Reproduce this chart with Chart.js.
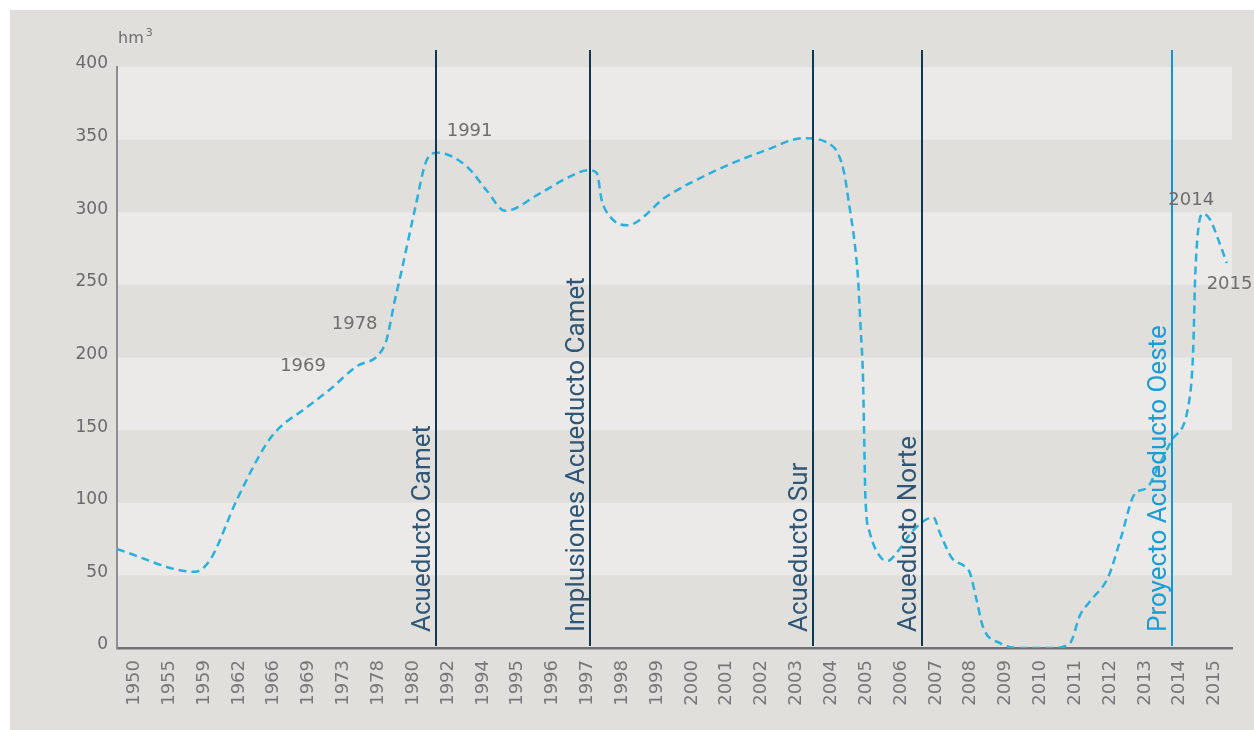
<!DOCTYPE html>
<html lang="es">
<head>
<meta charset="UTF-8" />
<title>Volumen de reserva</title>
<script src="https://cdn.jsdelivr.net/npm/chart.js"></script>
<style>
body { margin: 0; background: #ffffff; }
.grafica { position: absolute; left: 10px; top: 10px; width: 1244px; height: 720px; background: #e1dfdb; }
</style>
</head>
<body>
<div class="grafica"><canvas id="myChart" width="1244" height="720"></canvas></div>
<script>
// categorias del eje x
const years = ["1950", "1955", "1959", "1962", "1966", "1969", "1973", "1978", "1980", "1992",
  "1994", "1995", "1996", "1997", "1998", "1999", "2000", "2001", "2002", "2003",
  "2004", "2005", "2006", "2007", "2008", "2009", "2010", "2011", "2012", "2013", "2014", "2015"];

// curva: posicion sobre el eje de años (en unidades de categoria) y volumen en hm3
const curveAt = [-0.5, 1.74, 2.17, 2.94, 3.80, 4.18, 4.85, 5.61, 6.38, 7.19,
  7.48, 7.67, 8.05, 8.39, 8.70, 9.54, 10.11, 10.64, 11.64, 12.41,
  13.03, 13.27, 13.41, 13.65, 14.13, 15.28, 16.71, 18.15, 19.20, 20.06,
  20.36, 20.52, 20.66, 20.76, 20.84, 20.91, 20.94, 20.98, 21.11, 21.40,
  21.62, 21.89, 22.35, 22.93, 23.12, 23.46, 23.84, 23.98, 24.17, 24.36,
  24.84, 25.36, 26.36, 26.85, 27.14, 27.42, 27.95, 28.29, 28.72, 29.05,
  29.39, 29.77, 30.29, 30.39, 30.44, 30.53, 30.68, 30.87, 31.11, 31.35];
const volume = [68, 52.5, 60.6, 102, 141, 152, 164, 178, 194, 209,
  240, 260, 302, 336, 341, 331.5, 315, 301, 313, 323.5,
  329, 327, 308.5, 297, 291, 311, 329, 343, 351, 345,
  328, 304, 281, 257, 221, 186, 150, 103, 79, 63,
  60, 66, 81, 90, 79, 62, 56, 51.6, 33, 14,
  3.4, 0, 0, 3.4, 22.7, 32, 49, 74, 106.5, 110,
  125, 143, 173, 207.5, 253, 288, 299, 295, 281, 265];

// hitos (lineas verticales)
const eventNames = ["Acueducto Camet", "Implusiones Acueducto Camet", "Acueducto Sur", "Acueducto Norte", "Proyecto Acueducto Oeste"];
const eventAt = [8.66, 13.07, 19.47, 22.60, 29.78];

// etiquetas de años sobre la curva
const noteTexts = ["1969", "1978", "1991", "2014", "2015"];
const noteAt = [4.84, 6.32, 9.62, 30.33, 31.43];
const noteValue = [193.7, 222.8, 355.4, 308.5, 250.7];

const yTicks = [0, 50, 100, 150, 200, 250, 300, 350, 400];

const eventLine = ["#0b3a52", "#0b3a52", "#0b3a52", "#0b3a52", "#0b98d3"];
const eventText = ["#2f5675", "#2f5675", "#2f5675", "#2f5675", "#1b9cd4"];

const bandas = {
  id: "bandas",
  beforeDraw(chart) {
    const { ctx, chartArea: a, scales: { y } } = chart;
    ctx.save();
    ctx.fillStyle = "#ebeae8";
    for (let i = yTicks.length - 1; i > 0; i -= 2) {
      const top = y.getPixelForValue(yTicks[i]);
      const bot = y.getPixelForValue(yTicks[i - 1]);
      ctx.fillRect(a.left, top, a.right - a.left, bot - top);
    }
    ctx.restore();
  }
};

const hitos = {
  id: "hitos",
  afterDatasetsDraw(chart) {
    const { ctx, chartArea: a, scales: { x, y } } = chart;
    ctx.save();
    eventAt.forEach((v, i) => {
      const px = Math.round(x.getPixelForValue(v));
      ctx.strokeStyle = eventLine[i];
      ctx.lineWidth = 2;
      ctx.beginPath();
      ctx.moveTo(px, a.top - 17);
      ctx.lineTo(px, a.bottom - 2);
      ctx.stroke();
      ctx.save();
      ctx.translate(px - 6, a.bottom - 16);
      ctx.rotate(-Math.PI / 2);
      ctx.font = "26px Roboto";
      ctx.fillStyle = eventText[i];
      ctx.textAlign = "left";
      ctx.textBaseline = "alphabetic";
      ctx.fillText(eventNames[i], 0, 0);
      ctx.restore();
    });
    ctx.font = "18px 'DejaVu Sans'";
    ctx.fillStyle = "#6e6e6e";
    ctx.textAlign = "center";
    ctx.textBaseline = "middle";
    noteTexts.forEach((t, i) => {
      ctx.fillText(t, x.getPixelForValue(noteAt[i]), y.getPixelForValue(noteValue[i]));
    });
    // unidad
    ctx.textAlign = "left";
    ctx.textBaseline = "alphabetic";
    ctx.font = "16px 'DejaVu Sans'";
    ctx.fillText("hm", a.left + 1, 33);
    const w = ctx.measureText("hm").width;
    ctx.font = "11px 'DejaVu Sans'";
    ctx.fillText("3", a.left + 3 + w, 26);
    ctx.restore();
  }
};

function renderGrafica() {
  const data = {
    datasets: [{
      label: "Volumen",
      data: curveAt.map((v, i) => ({ x: v, y: volume[i] })),
      borderColor: "#2ab0dc",
      borderWidth: 2.5,
      borderDash: [8, 5],
      pointRadius: 0,
      cubicInterpolationMode: "monotone",
      fill: false
    }]
  };
  const config = {
    type: "line",
    data,
    plugins: [bandas, hitos],
    options: {
      responsive: false,
      animation: false,
      devicePixelRatio: 1,
      layout: { padding: { left: 0, top: 57, right: 22, bottom: 0 } },
      plugins: { legend: { display: false }, tooltip: { enabled: false } },
      scales: {
        x: {
          type: "linear",
          min: -0.5,
          max: 31.5,
          afterBuildTicks: (s) => { s.ticks = years.map((_, i) => ({ value: i })); },
          afterFit: (s) => { s.height = 82; },
          ticks: {
            callback: (v) => years[v],
            autoSkip: false,
            minRotation: 90,
            maxRotation: 90,
            padding: 12,
            color: "#777777",
            font: { family: "DejaVu Sans", size: 18 }
          },
          grid: { display: false, drawTicks: false },
          border: { color: "#727272", width: 2.5 }
        },
        y: {
          min: 0,
          max: 400,
          afterBuildTicks: (s) => { s.ticks = yTicks.map((v) => ({ value: v })); },
          afterFit: (s) => { s.width = 107; },
          ticks: {
            padding: 9,
            labelOffset: -3,
            color: "#6a6a6a",
            font: { family: "DejaVu Sans", size: 17 }
          },
          grid: { display: false, drawTicks: false },
          border: { color: "#8d8d92", width: 2 }
        }
      }
    }
  };
  new Chart(document.getElementById("myChart"), config);
}
renderGrafica();
</script>
</body>
</html>
